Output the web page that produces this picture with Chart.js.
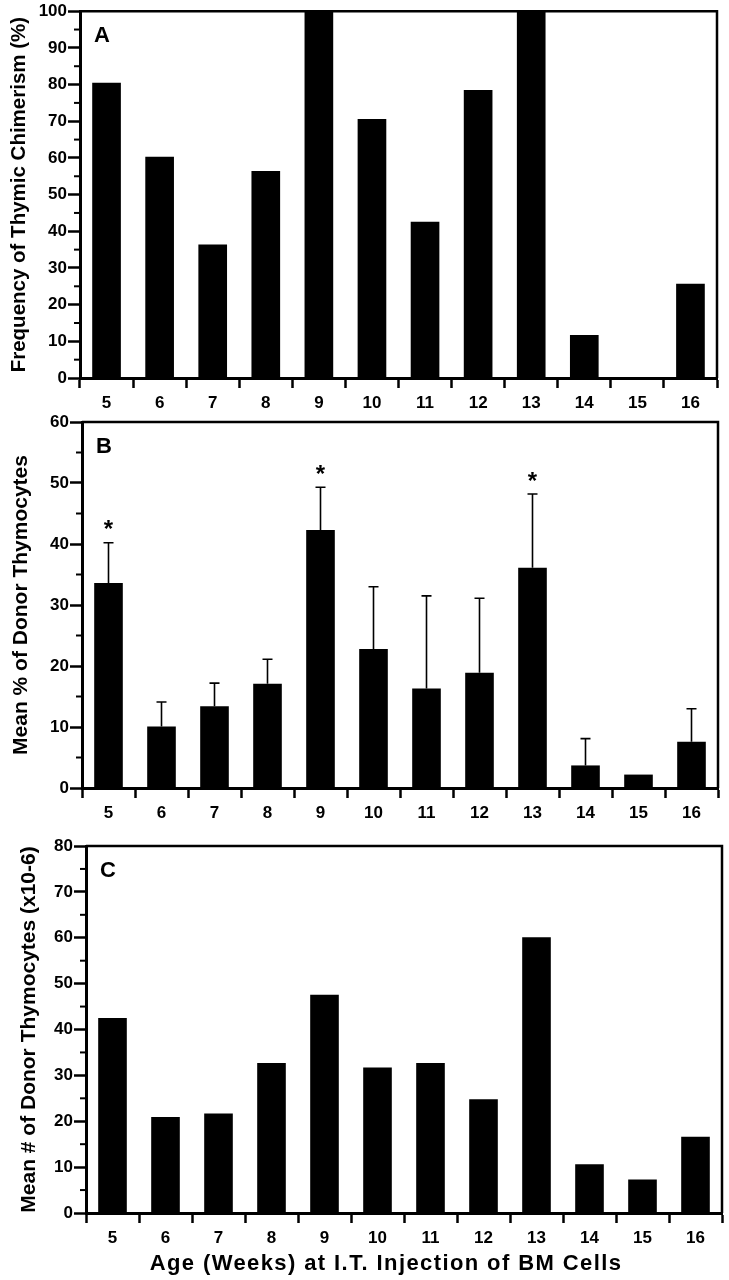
<!DOCTYPE html>
<html>
<head>
<meta charset="utf-8">
<script src="https://cdn.jsdelivr.net/npm/chart.js@4.4.1/dist/chart.umd.min.js"></script>
<style>
  body { margin: 0; background: #fff; width: 729px; height: 1280px; position: relative; overflow: hidden; }
  canvas { position: absolute; left: 0; }
  #xTitle {
    position: absolute; left: 36px; width: 700px; top: 1250px;
    text-align: center; font: bold 22px "Liberation Sans", Arial, sans-serif; letter-spacing: 1.4px;
    line-height: 26px; color: #000;
  }
</style>
</head>
<body>
<canvas id="chartA" width="729" height="420" style="top:0"></canvas>
<canvas id="chartB" width="729" height="420" style="top:410px"></canvas>
<canvas id="chartC" width="729" height="450" style="top:830px"></canvas>
<div id="xTitle">Age (Weeks) at I.T. Injection of BM Cells</div>
<script>
const weeks = ['5', '6', '7', '8', '9', '10', '11', '12', '13', '14', '15', '16'];

// A: frequency of thymic chimerism (%)
const chimerism = [80.5, 60.3, 36.4, 56.4, 100, 70.6, 42.6, 78.5, 100, 11.7, 0, 25.7];

// B: mean % donor thymocytes, upper error (SEM), significance stars
const donorPct = [33.6, 10.1, 13.4, 17.1, 42.3, 22.8, 16.3, 18.9, 36.1, 3.7, 2.2, 7.6];
const donorPctErr = [6.6, 4.0, 3.8, 4.0, 7.0, 10.2, 15.2, 12.2, 12.1, 4.4, 0, 5.4];
const donorPctSig = [true, false, false, false, true, false, false, false, true, false, false, false];

// C: mean # donor thymocytes (x10-6)
const donorNum = [42.5, 20.9, 21.7, 32.7, 47.6, 31.7, 32.7, 24.8, 60.1, 10.6, 7.3, 16.6];

Chart.defaults.font.family = '"Liberation Sans", Arial, sans-serif';
Chart.defaults.font.weight = 'bold';
Chart.defaults.color = '#000';

// frame, minor ticks, error bars, stars and panel letter
const panelExtras = {
    id: 'panelExtras',
    afterDatasetsDraw(chart, args, opts) {
        const { ctx, chartArea: a } = chart;
        const y = chart.scales.y;
        ctx.save();
        ctx.strokeStyle = '#000';
        ctx.fillStyle = '#000';
        ctx.lineWidth = 2.5;
        ctx.beginPath();
        ctx.moveTo(a.left, a.top);
        ctx.lineTo(a.right, a.top);
        ctx.lineTo(a.right, a.bottom);
        ctx.stroke();

        ctx.lineWidth = 2;
        for (let v = 5; v < y.max; v += 10) {
            const py = y.getPixelForValue(v);
            ctx.beginPath();
            ctx.moveTo(a.left - 6, py);
            ctx.lineTo(a.left, py);
            ctx.stroke();
        }

        if (opts.errors) {
            const meta = chart.getDatasetMeta(0);
            const vals = chart.data.datasets[0].data;
            ctx.lineWidth = 1.6;
            meta.data.forEach((bar, i) => {
                const e = opts.errors[i];
                if (!e) return;
                const y0 = y.getPixelForValue(vals[i]);
                const y1 = y.getPixelForValue(vals[i] + e);
                ctx.beginPath();
                ctx.moveTo(bar.x, y0);
                ctx.lineTo(bar.x, y1);
                ctx.moveTo(bar.x - 5, y1);
                ctx.lineTo(bar.x + 5, y1);
                ctx.stroke();
                if (opts.stars && opts.stars[i]) {
                    ctx.font = 'bold 24px "Liberation Sans", Arial, sans-serif';
                    ctx.textAlign = 'center';
                    ctx.textBaseline = 'top';
                    ctx.fillText('*', bar.x, y1 - 24);
                }
            });
        }

        ctx.font = 'bold 22px "Liberation Sans", Arial, sans-serif';
        ctx.textAlign = 'left';
        ctx.textBaseline = 'alphabetic';
        ctx.fillText(opts.letter, a.left + 14, a.top + 31);
        ctx.restore();
    }
};

function makePanel(id, values, yMax, yTitle, cfg) {
    return new Chart(document.getElementById(id), {
        type: 'bar',
        data: {
            labels: weeks,
            datasets: [{
                data: values,
                backgroundColor: '#000',
                borderWidth: 0,
                categoryPercentage: 1,
                barPercentage: 0.54,
            }]
        },
        options: {
            responsive: false,
            animation: false,
            events: [],
            layout: { padding: { top: cfg.top, right: cfg.right, left: 0, bottom: 0 } },
            plugins: {
                legend: { display: false },
                tooltip: { enabled: false },
                panelExtras: { letter: cfg.letter, errors: cfg.errors, stars: cfg.stars }
            },
            scales: {
                x: {
                    afterFit: s => { s.height = cfg.xHeight; },
                    grid: { offset: true, drawOnChartArea: false, tickLength: 10, tickWidth: 2.5, tickColor: '#000' },
                    border: { display: true, color: '#000', width: 3 },
                    ticks: { font: { size: 17, weight: 'bold' }, padding: 5, color: '#000' }
                },
                y: {
                    min: 0,
                    max: yMax,
                    afterFit: s => { s.width = cfg.left; },
                    grid: { drawOnChartArea: false, tickLength: 12, tickWidth: 2.5, tickColor: '#000' },
                    border: { display: true, color: '#000', width: 3 },
                    ticks: { stepSize: 10, font: { size: 17, weight: 'bold' }, padding: 1, color: '#000' },
                    title: {
                        display: true,
                        text: yTitle,
                        font: { size: cfg.titleSize, weight: 'bold' },
                        color: '#000',
                        padding: { top: cfg.titlePad, bottom: 0 }
                    }
                }
            }
        },
        plugins: [panelExtras]
    });
}

makePanel('chartA', chimerism, 100, 'Frequency of Thymic Chimerism (%)',
    { letter: 'A', top: 11, right: 12, left: 80, xHeight: 42, titleSize: 20.5, titlePad: 7.5 });

makePanel('chartB', donorPct, 60, 'Mean % of Donor Thymocytes',
    { letter: 'B', top: 12, right: 11, left: 82, xHeight: 42, titleSize: 21, titlePad: 9, errors: donorPctErr, stars: donorPctSig });

makePanel('chartC', donorNum, 80, 'Mean # of Donor Thymocytes (x10-6)',
    { letter: 'C', top: 16, right: 7, left: 86, xHeight: 67, titleSize: 21, titlePad: 17 });
</script>
</body>
</html>
